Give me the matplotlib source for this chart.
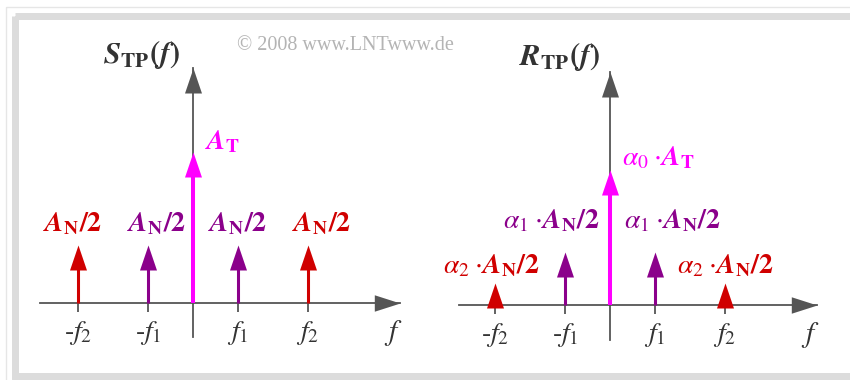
import numpy as np
import matplotlib.pyplot as plt
from matplotlib.path import Path
from matplotlib.patches import Rectangle

plt.rcParams['mathtext.fontset'] = 'stix'
plt.rcParams['font.family'] = ['Liberation Serif', 'DejaVu Serif']

# spectral lines: -f2, -f1, 0, f1, f2
f1 = 1.0
f2 = 2.55
freqs = [-f2, -f1, 0.0, f1, f2]

# amplitudes of the transmitted spectrum S_TP(f), in units of A_N/2
s_heights = [1.0, 1.0, 2.6, 1.0, 1.0]
# amplitudes of the received spectrum R_TP(f)
r_heights = [0.38, 0.91, 2.33, 0.91, 0.38]

red = '#d00000'
purple = '#8b008b'
magenta = '#ff00ff'
line_colors = [red, purple, magenta, purple, red]

s_labels = [r'$\mathbfit{A}_{\mathbf{N}}\mathbf{/2}$'] * 4
r_labels_mid = r'$\alpha_1\;{\cdot}\mathbfit{A}_{\mathbf{N}}\mathbf{/2}$'
r_labels_out = r'$\alpha_2\;{\cdot}\mathbfit{A}_{\mathbf{N}}\mathbf{/2}$'
tick_labels = [r'$\mathit{\text{-}f}_2$', r'$\mathit{\text{-}f}_1$', r'$\mathit{f}_1$', r'$\mathit{f}_2$']

axis_gray = '#555555'
text_gray = '#333333'

# pixel scale of both panels
PX_X = 45.0   # pixels per unit of f
PX_Y = 58.0   # pixels per unit of amplitude
W, H = 850, 380

# arrow head: tip at the marker position
head_up = Path([(0, 0), (-0.34, -1), (0.34, -1), (0, 0)],
               [Path.MOVETO, Path.LINETO, Path.LINETO, Path.CLOSEPOLY])
head_right = Path([(0, 0), (-1, 0.32), (-1, -0.32), (0, 0)],
                  [Path.MOVETO, Path.LINETO, Path.LINETO, Path.CLOSEPOLY])
HEAD_MS = 36
head_len = 25 / PX_Y

fig = plt.figure(figsize=(W / 100, H / 100), dpi=100)

# frame around the drawing
bg = fig.add_axes([0, 0, 1, 1])
bg.set_xlim(0, W)
bg.set_ylim(H, 0)
bg.axis('off')
bg.add_patch(Rectangle((6, 7), W, H, fill=False, ec='#e6e6e6', lw=1))
bg.add_patch(Rectangle((15, 16), W, 360, fill=False, ec='#dcdcdc', lw=5))


def make_panel(x0, y0, ax_left, ax_right):
    # axes whose data origin sits at pixel (x0, y0)
    left, right, top, bottom = 20 + ax_left, 20 + ax_right, 20, 365
    ax = fig.add_axes([left / W, 1 - bottom / H, (right - left) / W, (bottom - top) / H])
    ax.set_xlim((left - x0) / PX_X, (right - x0) / PX_X)
    ax.set_ylim((y0 - bottom) / PX_Y, (y0 - top) / PX_Y)
    ax.axis('off')
    return ax


def draw_axes(ax, x_from, y_from, x_to, y_to, title, title_x):
    ax.plot([x_from, x_to], [0, 0], color=axis_gray, lw=1.3, zorder=1)
    ax.plot([0, 0], [y_from, y_to], color=axis_gray, lw=1.3, zorder=1)
    ax.plot(x_to, 0, marker=head_right, ms=37, color=axis_gray, mew=0, zorder=1)
    ax.plot(0, y_to, marker=head_up, ms=HEAD_MS, color=axis_gray, mew=0, zorder=1)
    ticks = [f for f in freqs if f != 0]
    ax.vlines(ticks, -0.16, 0, color=axis_gray, lw=1.3, zorder=1)
    for f, lab in zip(ticks, tick_labels):
        ax.text(f, -0.52, lab, ha='center', va='center', fontsize=20, color=text_gray)
    ax.text(x_to - 0.15, -0.52, r'$\mathit{f}$', ha='center', va='center',
            fontsize=21, color=text_gray)
    ax.text(title_x, 4.14, title, ha='right', va='baseline', fontsize=22, color=text_gray)


def draw_lines(ax, heights):
    for f, h, c in zip(freqs, heights, line_colors):
        lw = 2.9 if c == magenta else 2.2
        top = max(h - head_len * 0.9, 0)
        if top > 0:
            ax.plot([f, f], [0, top], color=c, lw=lw, solid_capstyle='butt', zorder=3)
        ax.plot(f, h, marker=head_up, ms=HEAD_MS, color=c, mew=0, zorder=3)


# left panel: S_TP(f)
axl = make_panel(193, 303, 0, 400)
draw_axes(axl, -3.4, -0.59, 4.6, 4.05,
          r'$\mathbfit{S}_{\mathbf{TP}}\mathbf{(}\mathbfit{f}\mathbf{)}$', -0.29)
draw_lines(axl, s_heights)
s_dx = [-0.13, 0.2, -0.02, 0.3]
side = [0, 1, 3, 4]
for i, lab, dx in zip(side, s_labels, s_dx):
    axl.text(freqs[i] + dx, s_heights[i] + 0.26, lab, ha='center', va='baseline',
             fontsize=20, color=line_colors[i])
axl.text(0.27, s_heights[2] + 0.04, r'$\mathbfit{A}_{\mathbf{T}}$', ha='left',
         va='baseline', fontsize=20, color=magenta)

# right panel: R_TP(f)
axr = make_panel(610, 305, 415, 815)
draw_axes(axr, -3.36, -0.6, 4.6, 4.02,
          r'$\mathbfit{R}_{\mathbf{TP}}\mathbf{(}\mathbfit{f}\mathbf{)}$', -0.22)
draw_lines(axr, r_heights)
axr.text(0.27, r_heights[2] + 0.08, r'$\alpha_0\;{\cdot}\mathbfit{A}_{\mathbf{T}}$',
         ha='left', va='baseline', fontsize=20, color=magenta)
axr.text(-0.22, 1.33, r_labels_mid, ha='right', va='baseline', fontsize=20, color=purple)
axr.text(0.31, 1.33, r_labels_mid, ha='left', va='baseline', fontsize=20, color=purple)
axr.text(freqs[0] - 0.09, r_heights[0] + 0.19, r_labels_out, ha='center', va='baseline',
         fontsize=20, color=red)
axr.text(freqs[4] + 0.01, r_heights[4] + 0.19, r_labels_out, ha='center', va='baseline',
         fontsize=20, color=red)

fig.text(237 / W, 1 - 45 / H, '\u00a9 2008 www.LNTwww.de', ha='left', va='center',
         fontsize=14.5, color='#b4b4b4')

fig.savefig('out.png', dpi=100)
